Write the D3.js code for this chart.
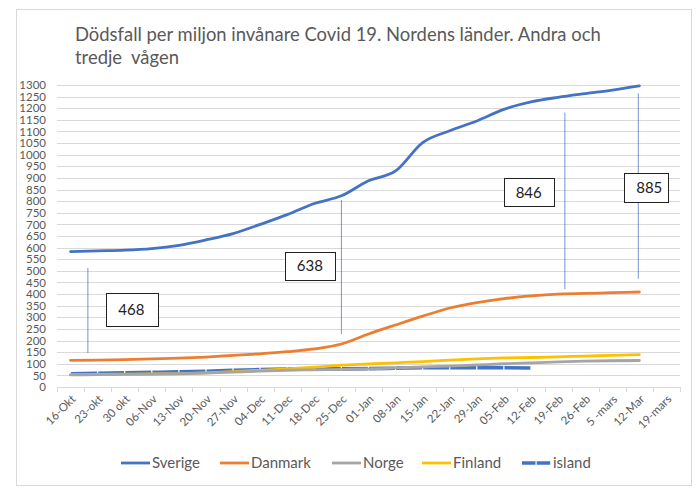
<!DOCTYPE html>
<html>
<head>
<meta charset="utf-8">
<script src="https://cdn.jsdelivr.net/npm/d3@7"></script>
<style>
  body { margin: 0; background: #fff; }
  svg { display: block; font-family: Lato, "Open Sans", sans-serif; }
</style>
</head>
<body>
<div id="output"></div>
<script>
// categories (weeks) and values per country, deaths per million
const weeks = ["16-Okt", "23-okt", "30 okt", "06-Nov", "13-Nov", "20-Nov", "27-Nov", "04-Dec",
  "11-Dec", "18-Dec", "25-Dec", "01-Jan", "08-Jan", "15-Jan", "22-Jan", "29-Jan", "05-Feb",
  "12-Feb", "19-Feb", "26-Feb", "5 -mars", "12-Mar", "19-mars"];

const sverige = [583, 586, 589, 596, 610, 633, 660, 700, 742, 790, 823, 888, 930, 1052, 1103, 1145,
  1195, 1227, 1247, 1263, 1278, 1296];
const danmark = [115, 116, 118, 121, 124, 129, 136, 143, 152, 164, 185, 228, 267, 305, 340, 363,
  380, 392, 400, 403, 406, 409];
const norge = [52, 53, 54, 55, 57, 60, 64, 68, 72, 74, 76, 78, 82, 86, 90, 95, 100, 104, 108, 111,
  113, 114];
const finland = [53, 54, 55, 56, 58, 61, 66, 72, 78, 85, 94, 99, 104, 109, 116, 121, 125, 127, 130,
  133, 136, 139];
const island = [57, 59, 61, 63, 65, 68, 72, 75, 77, 78, 78, 79, 81, 83, 83, 83, 83, 82];

const yTicks = d3.range(0, 1301, 50);

// text boxes with vertical lines drawn on the chart (category index, value range)
const callouts = [
  {label: "468", line: {i: 0.64, from: 146, to: 512}, box: {i0: 1.32, i1: 3.23, top: 403, bottom: 263}},
  {label: "638", line: {i: 10, from: 228, to: 805}, box: {i0: 7.91, i1: 9.77, top: 582, bottom: 461}},
  {label: "846", line: {i: 18.25, from: 421, to: 1181}, box: {i0: 15.99, i1: 17.82, top: 898, bottom: 779}},
  {label: "885", line: {i: 20.96, from: 466, to: 1264}, box: {i0: 20.44, i1: 22.07, top: 921, bottom: 795}}
];

const series = [
  {name: "Sverige", values: sverige, color: "#4472C4"},
  {name: "Danmark", values: danmark, color: "#ED7D31"},
  {name: "Norge", values: norge, color: "#A5A5A5"},
  {name: "Finland", values: finland, color: "#FFC000"},
  {name: "island", values: island, color: "#4472C4", dashed: true}
];

const width = 700, height = 490;
const svg = d3.select("#output").append("svg")
  .attr("width", width)
  .attr("height", height);

// chart frame
svg.append("rect")
  .attr("x", 16.5).attr("y", 9.5)
  .attr("width", 675).attr("height", 476)
  .attr("fill", "#fff")
  .attr("stroke", "#d9d9d9");

// title
const title = svg.append("g").attr("fill", "#595959");
const t1 = title.append("text").attr("x", 75).attr("y", 41)
  .attr("font-size", 18)
  .text("Dödsfall per miljon invånare Covid 19. Nordens länder. Andra och");
const fit = 18 * 526 / t1.node().getComputedTextLength();
t1.attr("font-size", fit);
title.append("text").attr("x", 75).attr("y", 64)
  .attr("font-size", fit)
  .attr("xml:space", "preserve")
  .style("white-space", "pre")
  .text("tredje  vågen");

const x = d3.scaleBand().domain(weeks).range([57, 680]);
const y = d3.scaleLinear().domain([0, 1300]).range([387, 85]);
const xi = i => x.range()[0] + (i + 0.5) * x.step();

// gridlines
svg.append("g")
  .selectAll("line")
  .data(yTicks.filter(d => d > 0))
  .join("line")
  .attr("x1", x.range()[0]).attr("x2", x.range()[1])
  .attr("y1", d => Math.round(y(d)) + 0.5).attr("y2", d => Math.round(y(d)) + 0.5)
  .attr("stroke", "#d9d9d9");

// y axis labels
const yAxis = svg.append("g")
  .attr("transform", "translate(46,0)")
  .call(d3.axisLeft(y).tickValues(yTicks).tickFormat(d3.format("d")).tickSize(0).tickPadding(0));
yAxis.select(".domain").remove();
yAxis.selectAll("text")
  .attr("fill", "#595959")
  .attr("font-family", "Lato, sans-serif")
  .attr("font-size", 11.5);

// x axis line and ticks between categories
const xAxis = svg.append("g");
xAxis.append("line")
  .attr("x1", x.range()[0]).attr("x2", x.range()[1])
  .attr("y1", y(0) + 0.5).attr("y2", y(0) + 0.5)
  .attr("stroke", "#d9d9d9");
xAxis.selectAll(".tick")
  .data(weeks.map(w => x(w)).concat([x.range()[1]]))
  .join("line")
  .attr("class", "tick")
  .attr("x1", d => Math.round(d) + 0.5).attr("x2", d => Math.round(d) + 0.5)
  .attr("y1", y(0)).attr("y2", y(0) + 5)
  .attr("stroke", "#d9d9d9");
xAxis.selectAll("text")
  .data(weeks)
  .join("text")
  .attr("transform", d => `translate(${x(d) + x.bandwidth() / 2 + 3},${y(0) + 10}) rotate(-45)`)
  .attr("text-anchor", "end")
  .attr("dy", "0.35em")
  .attr("font-size", 11.5)
  .attr("fill", "#595959")
  .text(d => d);

// series lines
const line = d3.line()
  .x((d, i) => xi(i))
  .y(d => y(d))
  .curve(d3.curveMonotoneX);

svg.append("g")
  .attr("fill", "none")
  .attr("stroke-linejoin", "round")
  .selectAll("path")
  .data(series.slice().reverse())
  .join("path")
  .attr("stroke", d => d.color)
  .attr("stroke-width", d => d.dashed ? 3.6 : 2.8)
  .attr("stroke-linecap", d => d.dashed ? "butt" : "round")
  .attr("stroke-dasharray", d => d.dashed ? `${x.step() - 1.2} 1.2` : null)
  .attr("stroke-dashoffset", d => d.dashed ? -0.6 : null)
  .attr("d", d => line(d.values));

// callouts
const co = svg.append("g");
co.selectAll("line")
  .data(callouts)
  .join("line")
  .attr("x1", d => xi(d.line.i)).attr("x2", d => xi(d.line.i))
  .attr("y1", d => y(d.line.to)).attr("y2", d => y(d.line.from))
  .attr("stroke", "#4472C4")
  .attr("stroke-opacity", 0.75)
  .attr("stroke-width", 1);
const boxes = co.selectAll("g")
  .data(callouts)
  .join("g");
boxes.append("rect")
  .attr("x", d => Math.round(xi(d.box.i0)) + 0.5)
  .attr("y", d => Math.round(y(d.box.top)) + 0.5)
  .attr("width", d => Math.round(xi(d.box.i1) - xi(d.box.i0)))
  .attr("height", d => Math.round(y(d.box.bottom) - y(d.box.top)))
  .attr("fill", "#fff")
  .attr("stroke", "#222")
  .attr("stroke-width", 1);
boxes.append("text")
  .attr("x", d => xi(d.box.i0) + 12)
  .attr("y", d => (y(d.box.top) + y(d.box.bottom)) / 2)
  .attr("dy", "0.36em")
  .attr("font-size", 15)
  .attr("fill", "#222")
  .text(d => d.label);

// legend
const legendX = [121, 220, 332, 422, 522];
const legend = svg.append("g")
  .selectAll("g")
  .data(series)
  .join("g")
  .attr("transform", (d, i) => `translate(${legendX[i]},463)`);
legend.append("line")
  .attr("x1", 0).attr("x2", 29)
  .attr("stroke", d => d.color)
  .attr("stroke-width", d => d.dashed ? 3.6 : 2.8)
  .attr("stroke-dasharray", d => d.dashed ? "13.5 1.2" : null);
legend.append("text")
  .attr("x", 31)
  .attr("dy", "0.35em")
  .attr("font-size", 15)
  .attr("fill", "#595959")
  .text(d => d.name);
</script>
</body>
</html>
